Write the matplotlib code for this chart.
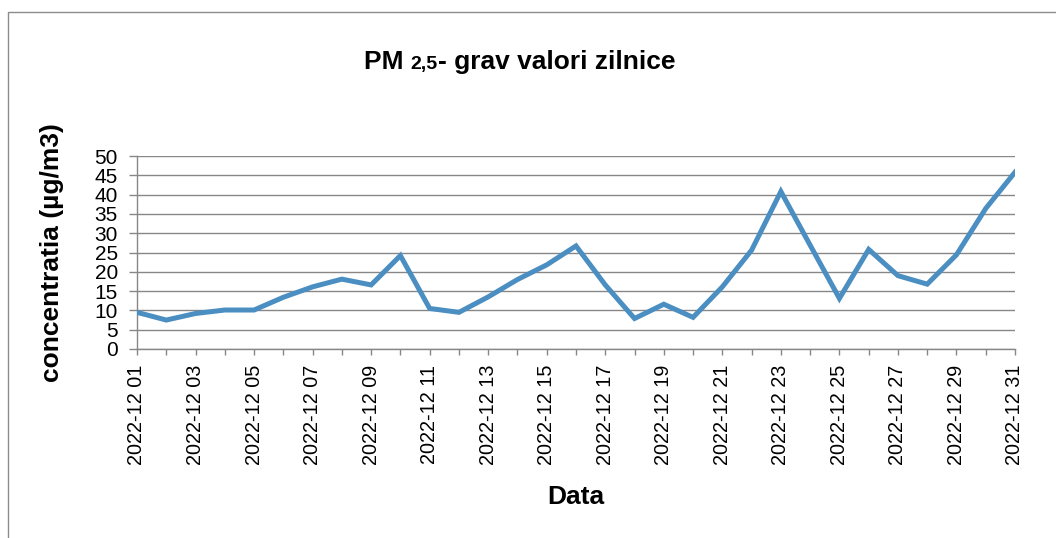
import matplotlib
matplotlib.use("Agg")
import matplotlib.pyplot as plt
from matplotlib.patches import Rectangle

plt.rcParams['font.family'] = ['Liberation Sans', 'DejaVu Sans']

dates = [f"2022-12 {d:02d}" for d in range(1, 32)]
values = [9.5, 7.5, 9.2, 10.1, 10.1, 13.4, 16.1, 18.1, 16.6, 24.2,
          10.5, 9.5, 13.5, 18.0, 21.8, 26.7, 16.6, 7.9, 11.6, 8.2,
          16.1, 25.6, 40.8, 26.9, 13.1, 25.8, 19.0, 16.8, 24.4, 36.4, 45.8]

W, H = 1056, 538
fig = plt.figure(figsize=(W/100, H/100), dpi=100)
ax = fig.add_axes([137/W, 1-349/H, (1015-137)/W, (349-156)/H])

x = list(range(len(dates)))
ax.plot(x, values, color='#4A8EC2', lw=3.6, solid_joinstyle='miter', zorder=3)

ax.set_xlim(0, len(dates)-1)
ax.set_ylim(0, 50)
ax.set_yticks(range(0, 51, 5))
ax.set_xticks(x)
ax.set_xticklabels([d if i % 2 == 0 else '' for i, d in enumerate(dates)], rotation=90)
ax.tick_params(axis='both', color='#878787', width=1, direction='out')
ax.tick_params(axis='y', labelsize=15, length=5.8, pad=8)
ax.tick_params(axis='x', labelsize=14.3, length=4.5, pad=7)
ax.grid(axis='y', color='#878787', lw=1)
ax.set_axisbelow(True)
for s in ['top', 'right']:
    ax.spines[s].set_visible(False)
for s in ['left', 'bottom']:
    ax.spines[s].set_color('#878787')
    ax.spines[s].set_linewidth(1)

ax.set_ylabel('concentratia (µg/m3)', fontsize=19, fontweight='bold', labelpad=22)
ax.set_xlabel('Data', fontsize=19, fontweight='bold', labelpad=14)

# title with smaller "2,5" sharing the baseline
base_y = 1 - 69/H
parts = [('PM ', 19), ('2,5', 14), ('- grav valori zilnice', 19)]
texts = [fig.text(0, base_y, s, fontsize=fs, fontweight='bold', ha='left', va='baseline') for s, fs in parts]
fig.canvas.draw()
r = fig.canvas.get_renderer()
widths = [t.get_window_extent(r).width for t in texts]
cur = 519.5 - sum(widths) / 2
for t, w in zip(texts, widths):
    t.set_x(cur / W)
    cur += w

fig.patches.append(Rectangle((8/W, -0.1), 2, 1-12/H+0.1, transform=fig.transFigure,
                             fill=False, edgecolor='#8c8c8c', lw=1))

fig.savefig('out.png', dpi=100)
